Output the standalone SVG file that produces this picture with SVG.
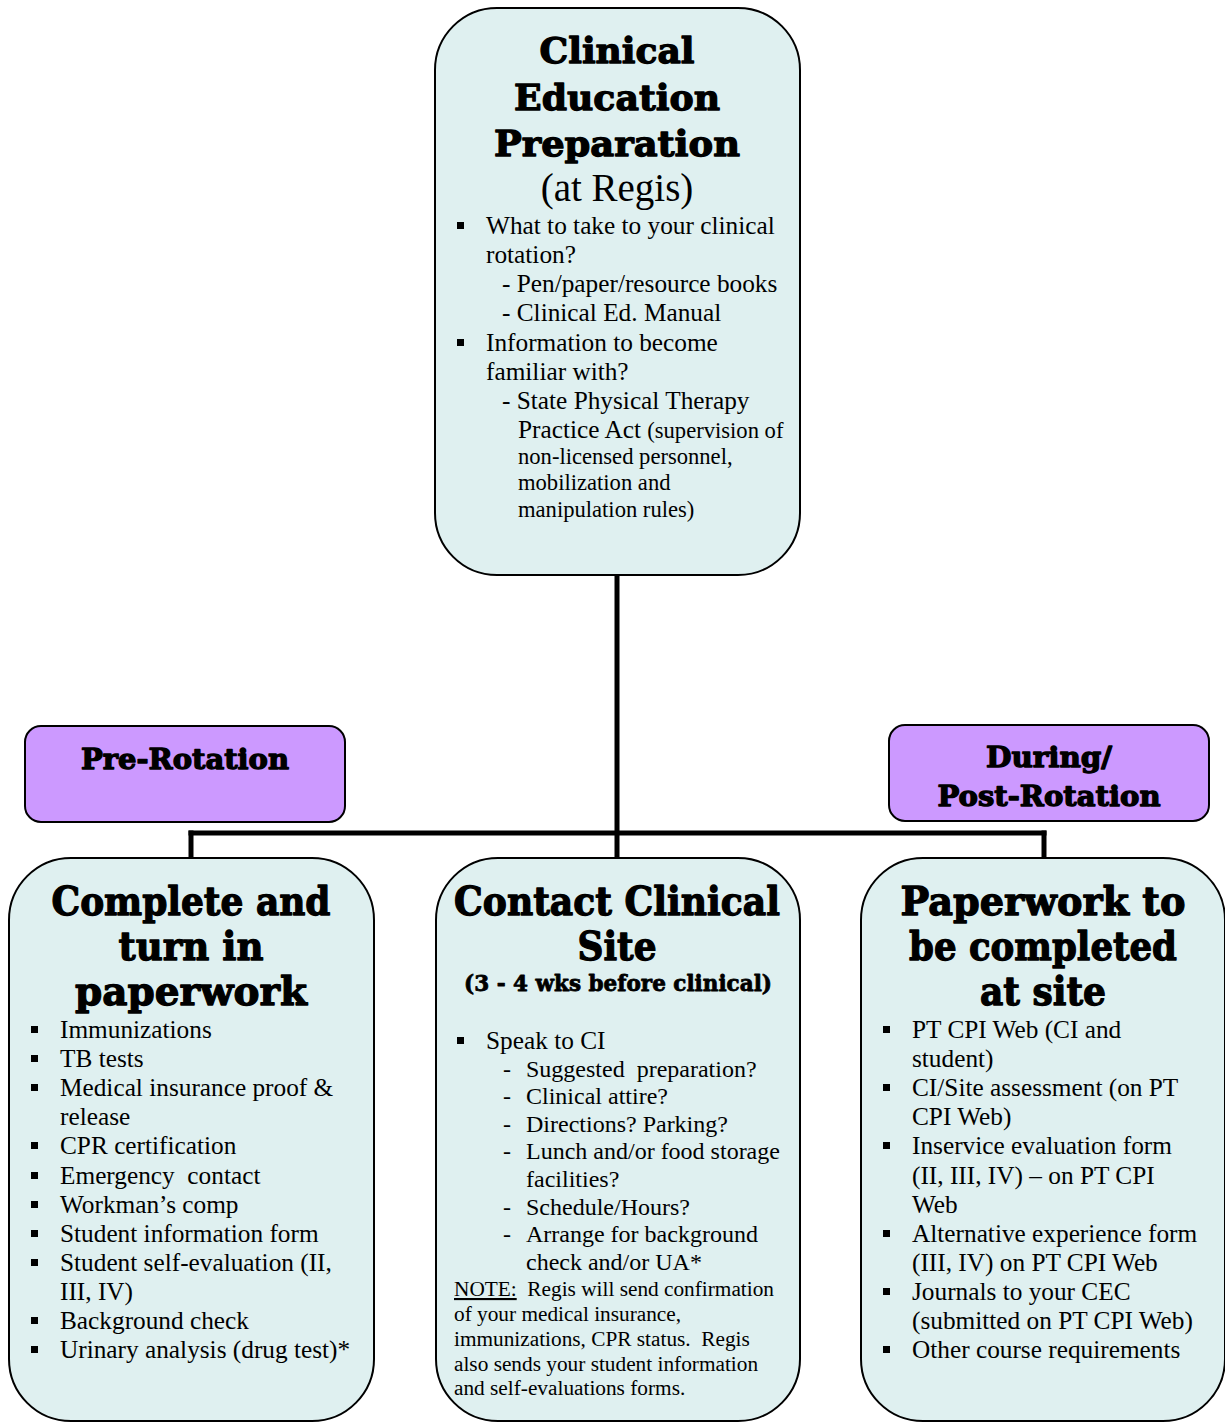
<svg xmlns="http://www.w3.org/2000/svg" width="1225" height="1422" viewBox="0 0 1225 1422">
<style>
.box{fill:#dff0f0;stroke:#000;stroke-width:2}
.tag{fill:#cc99ff;stroke:#000;stroke-width:2}
.ttl{font-family:"DejaVu Serif",serif;font-weight:bold;fill:#000;stroke:#000;stroke-width:1.3;stroke-linejoin:round;text-anchor:middle}
.t{font-family:"Liberation Serif","Times New Roman",serif;font-size:25.3px;fill:#000}
.s{font-family:"Liberation Serif","Times New Roman",serif;font-size:22.6px;fill:#000}
.n{font-family:"Liberation Serif","Times New Roman",serif;font-size:21.3px;fill:#000}
.con{stroke:#000;stroke-width:5;fill:none;stroke-linecap:square}
.b{fill:#000}
</style>
<g id="connectors">
<line class="con" x1="617" y1="577" x2="617" y2="856"/>
<line class="con" x1="191" y1="833" x2="1044" y2="833"/>
<line class="con" x1="191" y1="833" x2="191" y2="856"/>
<line class="con" x1="1044" y1="833" x2="1044" y2="856"/>
</g>
<g id="node-top">
<rect class="box" x="435" y="8" width="365" height="567" rx="62" ry="62"/>
<text class="ttl" x="617" y="63" font-size="36" textLength="155" lengthAdjust="spacingAndGlyphs">Clinical</text>
<text class="ttl" x="617" y="110" font-size="36" textLength="206" lengthAdjust="spacingAndGlyphs">Education</text>
<text class="ttl" x="617" y="156" font-size="36" textLength="246" lengthAdjust="spacingAndGlyphs">Preparation</text>
<text class="t" x="617" y="201" text-anchor="middle" style="font-size:39px">(at Regis)</text>
<rect class="b" x="457" y="222" width="7" height="7"/>
<text class="t" x="486" y="234">What to take to your clinical</text>
<text class="t" x="486" y="263">rotation?</text>
<text class="t" x="502" y="292">- Pen/paper/resource books</text>
<text class="t" x="502" y="321">- Clinical Ed. Manual</text>
<rect class="b" x="457" y="339" width="7" height="7"/>
<text class="t" x="486" y="351">Information to become</text>
<text class="t" x="486" y="380">familiar with?</text>
<text class="t" x="502" y="409">- State Physical Therapy</text>
<text class="t" x="518" y="438">Practice Act <tspan style="font-size:22.6px">(supervision of</tspan></text>
<text class="s" x="518" y="464">non-licensed personnel,</text>
<text class="s" x="518" y="490">mobilization and</text>
<text class="s" x="518" y="517">manipulation rules)</text>
</g>
<g id="node-pre">
<rect class="tag" x="25" y="726" width="320" height="96" rx="16" ry="16"/>
<text class="ttl" x="185" y="769" font-size="28" textLength="208" lengthAdjust="spacingAndGlyphs">Pre-Rotation</text>
</g>
<g id="node-post">
<rect class="tag" x="889" y="725" width="320" height="96" rx="16" ry="16"/>
<text class="ttl" x="1049" y="767" font-size="28" textLength="126" lengthAdjust="spacingAndGlyphs">During/</text>
<text class="ttl" x="1049" y="806" font-size="28" textLength="223" lengthAdjust="spacingAndGlyphs">Post-Rotation</text>
</g>
<g id="node-left">
<rect class="box" x="9" y="858" width="365" height="563" rx="62" ry="62"/>
<text class="ttl" x="191" y="915" font-size="40" textLength="279" lengthAdjust="spacingAndGlyphs">Complete and</text>
<text class="ttl" x="191" y="960" font-size="40" textLength="145" lengthAdjust="spacingAndGlyphs">turn in</text>
<text class="ttl" x="191" y="1005" font-size="40" textLength="232" lengthAdjust="spacingAndGlyphs">paperwork</text>
<rect class="b" x="31" y="1026" width="7" height="7"/>
<text class="t" x="60" y="1038">Immunizations</text>
<rect class="b" x="31" y="1055" width="7" height="7"/>
<text class="t" x="60" y="1067">TB tests</text>
<rect class="b" x="31" y="1084" width="7" height="7"/>
<text class="t" x="60" y="1096">Medical insurance proof &amp;</text>
<text class="t" x="60" y="1125">release</text>
<rect class="b" x="31" y="1142" width="7" height="7"/>
<text class="t" x="60" y="1154">CPR certification</text>
<rect class="b" x="31" y="1172" width="7" height="7"/>
<text class="t" x="60" y="1184" xml:space="preserve">Emergency  contact</text>
<rect class="b" x="31" y="1201" width="7" height="7"/>
<text class="t" x="60" y="1213">Workman’s comp</text>
<rect class="b" x="31" y="1230" width="7" height="7"/>
<text class="t" x="60" y="1242">Student information form</text>
<rect class="b" x="31" y="1259" width="7" height="7"/>
<text class="t" x="60" y="1271">Student self-evaluation (II,</text>
<text class="t" x="60" y="1300">III, IV)</text>
<rect class="b" x="31" y="1317" width="7" height="7"/>
<text class="t" x="60" y="1329">Background check</text>
<rect class="b" x="31" y="1346" width="7" height="7"/>
<text class="t" x="60" y="1358">Urinary analysis (drug test)*</text>
</g>
<g id="node-middle">
<rect class="box" x="436" y="858" width="364" height="563" rx="62" ry="62"/>
<text class="ttl" x="617" y="915" font-size="40" textLength="326" lengthAdjust="spacingAndGlyphs">Contact Clinical</text>
<text class="ttl" x="617" y="960" font-size="40" textLength="79" lengthAdjust="spacingAndGlyphs">Site</text>
<text class="ttl" x="618" y="991" font-size="22" textLength="308" lengthAdjust="spacingAndGlyphs" style="stroke-width:0.8">(3 - 4 wks before clinical)</text>
<rect class="b" x="457" y="1037" width="7" height="7"/>
<text class="t" x="486" y="1049">Speak to CI</text>
<g class="t" style="font-size:24px">
<text x="503" y="1077">-</text><text x="526" y="1077" xml:space="preserve">Suggested  preparation?</text>
<text x="503" y="1104">-</text><text x="526" y="1104">Clinical attire?</text>
<text x="503" y="1132">-</text><text x="526" y="1132">Directions? Parking?</text>
<text x="503" y="1159">-</text><text x="526" y="1159">Lunch and/or food storage</text>
<text x="526" y="1187">facilities?</text>
<text x="503" y="1215">-</text><text x="526" y="1215">Schedule/Hours?</text>
<text x="503" y="1242">-</text><text x="526" y="1242">Arrange for background</text>
<text x="526" y="1270">check and/or UA*</text>
</g>
<text class="n" x="454" y="1296" xml:space="preserve"><tspan text-decoration="underline">NOTE:</tspan>  Regis will send confirmation</text>
<text class="n" x="454" y="1321">of your medical insurance,</text>
<text class="n" x="454" y="1346" xml:space="preserve">immunizations, CPR status.  Regis</text>
<text class="n" x="454" y="1371">also sends your student information</text>
<text class="n" x="454" y="1395">and self-evaluations forms.</text>
</g>
<g id="node-right">
<rect class="box" x="861" y="858" width="364" height="563" rx="62" ry="62"/>
<text class="ttl" x="1043" y="915" font-size="40" textLength="285" lengthAdjust="spacingAndGlyphs">Paperwork to</text>
<text class="ttl" x="1043" y="960" font-size="40" textLength="268" lengthAdjust="spacingAndGlyphs">be completed</text>
<text class="ttl" x="1043" y="1005" font-size="40" textLength="126" lengthAdjust="spacingAndGlyphs">at site</text>
<rect class="b" x="883" y="1026" width="7" height="7"/>
<text class="t" x="912" y="1038">PT CPI Web (CI and</text>
<text class="t" x="912" y="1067">student)</text>
<rect class="b" x="883" y="1084" width="7" height="7"/>
<text class="t" x="912" y="1096">CI/Site assessment (on PT</text>
<text class="t" x="912" y="1125">CPI Web)</text>
<rect class="b" x="883" y="1142" width="7" height="7"/>
<text class="t" x="912" y="1154">Inservice evaluation form</text>
<text class="t" x="912" y="1184">(II, III, IV) – on PT CPI</text>
<text class="t" x="912" y="1213">Web</text>
<rect class="b" x="883" y="1230" width="7" height="7"/>
<text class="t" x="912" y="1242">Alternative experience form</text>
<text class="t" x="912" y="1271">(III, IV) on PT CPI Web</text>
<rect class="b" x="883" y="1288" width="7" height="7"/>
<text class="t" x="912" y="1300">Journals to your CEC</text>
<text class="t" x="912" y="1329">(submitted on PT CPI Web)</text>
<rect class="b" x="883" y="1346" width="7" height="7"/>
<text class="t" x="912" y="1358">Other course requirements</text>
</g>
</svg>
